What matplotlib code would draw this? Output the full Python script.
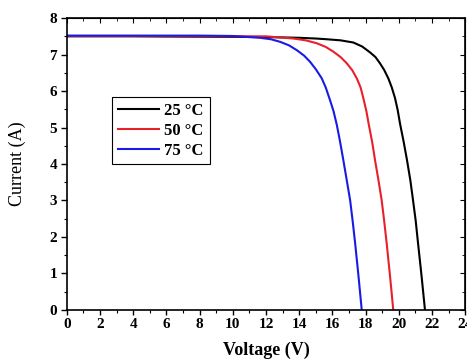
import matplotlib.pyplot as plt
from matplotlib.ticker import MultipleLocator

# I-V curves
v_25 = [0, 4, 8, 12, 14, 15, 15.66, 16.5, 17.27, 17.8, 18.27, 18.6, 18.87, 19.12, 19.37, 19.58, 19.78, 19.94, 20.08, 20.3, 20.5, 20.7, 20.86, 21.02, 21.16, 21.37, 21.58]
i_25 = [7.50, 7.50, 7.49, 7.48, 7.46, 7.44, 7.42, 7.39, 7.33, 7.22, 7.06, 6.93, 6.76, 6.58, 6.35, 6.10, 5.80, 5.47, 5.10, 4.60, 4.10, 3.55, 3.01, 2.45, 1.84, 0.95, 0.0]
v_50 = [0, 4, 8, 12, 13.65, 14.4, 15.06, 15.6, 16.06, 16.5, 16.87, 17.2, 17.47, 17.7, 17.87, 18.05, 18.2, 18.4, 18.57, 18.78, 18.97, 19.12, 19.27, 19.47, 19.67]
i_50 = [7.51, 7.51, 7.50, 7.50, 7.44, 7.39, 7.31, 7.21, 7.08, 6.93, 6.76, 6.57, 6.35, 6.10, 5.80, 5.45, 5.07, 4.60, 4.11, 3.55, 3.01, 2.45, 1.84, 0.95, 0.0]
v_75 = [0, 4, 8, 10, 11.64, 12.3, 12.85, 13.4, 13.86, 14.3, 14.66, 15.0, 15.36, 15.6, 15.86, 16.07, 16.27, 16.47, 16.66, 16.87, 17.07, 17.22, 17.37, 17.57, 17.77]
i_75 = [7.52, 7.52, 7.52, 7.51, 7.46, 7.42, 7.35, 7.25, 7.12, 6.97, 6.80, 6.60, 6.35, 6.10, 5.75, 5.45, 5.07, 4.60, 4.11, 3.55, 3.01, 2.45, 1.84, 0.95, 0.0]
labels = ['25 °C', '50 °C', '75 °C']
colors = ['black', '#e8202a', '#1a1ae6']

plt.rcParams['font.family'] = ['Liberation Serif', 'DejaVu Serif']

fig = plt.figure(figsize=(4.67, 3.62), dpi=100)
ax = fig.add_axes([0.143, 0.144, 0.853, 0.806])

ax.plot(v_25, i_25, color=colors[0], lw=1.5, label=labels[0])
ax.plot(v_50, i_50, color=colors[1], lw=1.5, label=labels[1])
ax.plot(v_75, i_75, color=colors[2], lw=1.5, label=labels[2])

ax.set_xlim(0, 24)
ax.set_ylim(0, 8)
ax.xaxis.set_major_locator(MultipleLocator(2))
ax.xaxis.set_minor_locator(MultipleLocator(1))
ax.yaxis.set_major_locator(MultipleLocator(1))
ax.yaxis.set_minor_locator(MultipleLocator(0.5))
ax.tick_params(which='both', direction='out', top=False, right=False)
ax.tick_params(which='major', length=3.5, width=1, labelsize=11, pad=2)
ax.tick_params(axis='y', which='major', length=4, pad=3)
ax.tick_params(which='minor', length=2, width=0.8)
for lab in ax.get_xticklabels() + ax.get_yticklabels():
    lab.set_fontweight('bold')

# mirrored ticks on top and right, pointing inward
ax2 = ax.secondary_xaxis('top')
ax2.xaxis.set_major_locator(MultipleLocator(2))
ax2.xaxis.set_minor_locator(MultipleLocator(1))
ax2.tick_params(which='both', direction='in', labeltop=False)
ax2.tick_params(which='major', length=3.5)
ax2.tick_params(which='minor', length=2)
ax3 = ax.secondary_yaxis('right')
ax3.yaxis.set_major_locator(MultipleLocator(1))
ax3.yaxis.set_minor_locator(MultipleLocator(0.5))
ax3.tick_params(which='both', direction='in', labelright=False)
ax3.tick_params(which='major', length=3.5)
ax3.tick_params(which='minor', length=2)

for s in ax.spines.values():
    s.set_linewidth(1.2)

ax.set_xlabel('Voltage (V)', fontsize=13, fontweight='bold', labelpad=8)
ax.set_ylabel('Current (A)', fontsize=13, labelpad=17)

leg = ax.legend(loc='upper left', bbox_to_anchor=(0.113, 0.728), fancybox=False,
                edgecolor='black', framealpha=1, handlelength=2.5,
                handletextpad=0.3, borderpad=0.35, labelspacing=0.22,
                borderaxespad=0, prop={'weight': 'bold', 'size': 12})
leg.get_frame().set_linewidth(0.8)

fig.savefig('out.png', dpi=100)
